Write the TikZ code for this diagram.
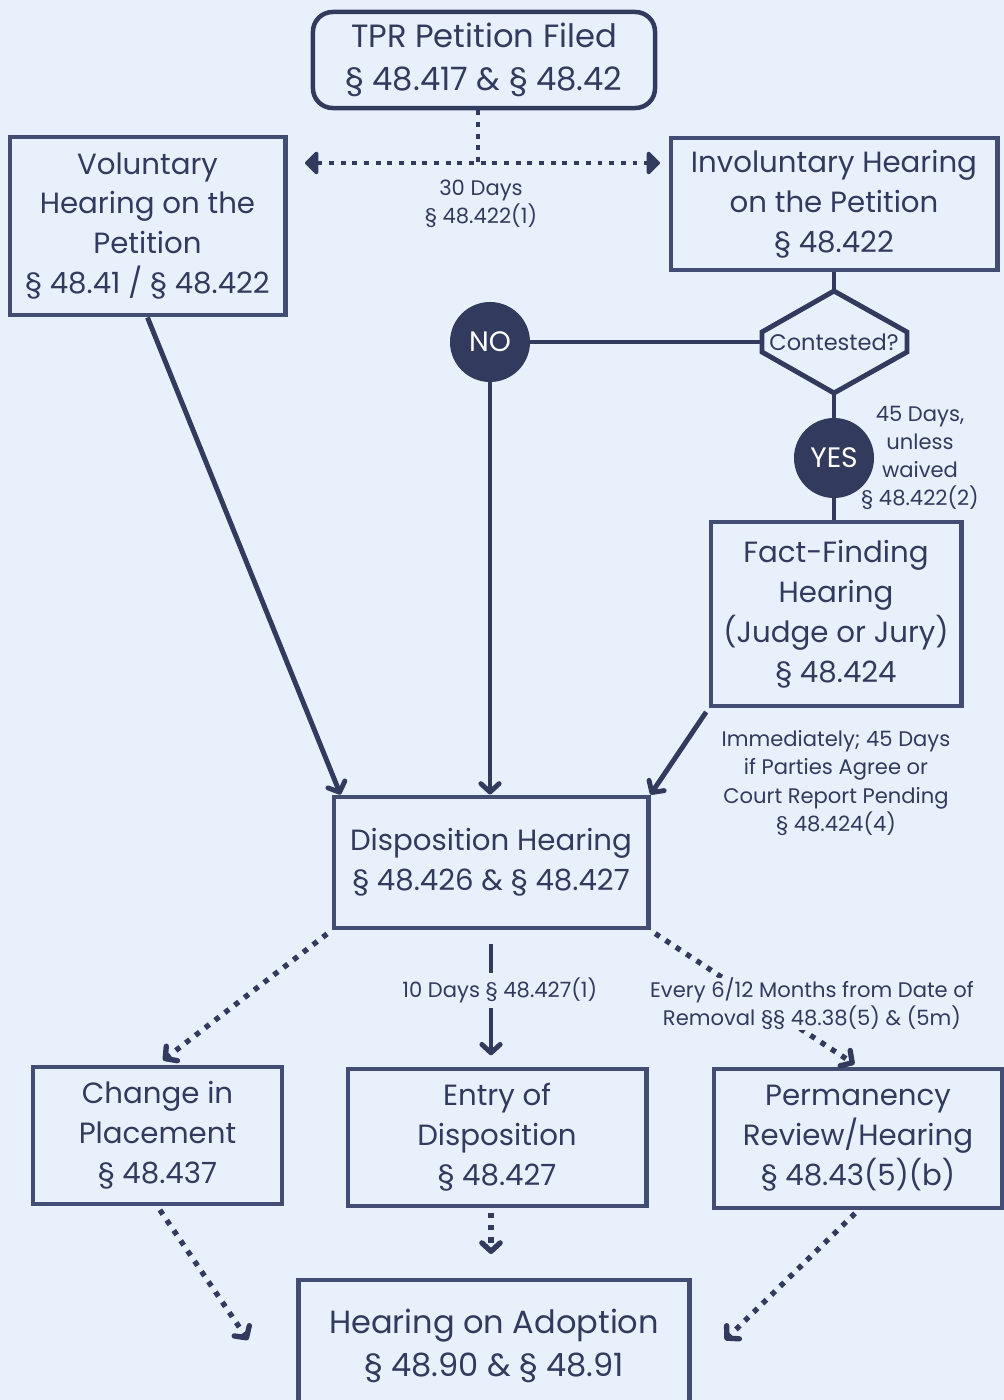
\documentclass[tikz,border=0pt]{standalone}
\usepackage{fontspec}
\setmainfont{Poppins}
\usetikzlibrary{positioning,arrows.meta}
\definecolor{navy}{HTML}{323A5E}
\definecolor{boxline}{HTML}{434C72}
\definecolor{paper}{HTML}{E8F1FB}
\tikzstyle{box}=[draw=boxline,line width=3.5pt,fill=paper,text=navy,align=center,inner sep=0pt,font=\fontsize{20.8}{28.4}\selectfont]
\tikzstyle{start}=[box,draw=navy,rounded corners=14pt,line width=3.2pt,font=\fontsize{22.9}{31}\selectfont]
\tikzstyle{note}=[text=navy,align=center,font=\fontsize{15}{20}\selectfont]
\tikzstyle{answer}=[circle,fill=navy,text=white,minimum size=2cm,inner sep=0pt,font=\fontsize{20}{24}\selectfont]
\tikzstyle{link}=[draw=navy,line width=3.5pt]
\tikzstyle{flow}=[link,-{Straight Barb[length=6pt,width=13pt,round]}]
\tikzstyle{dotflow}=[flow,line width=3.8pt,dash pattern=on 3.8pt off 5pt]

\begin{document}
\begin{tikzpicture}[x=0.025cm,y=-0.025cm]
\fill[paper] (0,0) rectangle (1004,1400);
\useasboundingbox (0,0) rectangle (1004,1400);

% top of the chart
\node (tpr) [start,minimum width=8.55cm,minimum height=2.4cm] at (484,60) {TPR Petition Filed\\§ 48.417 \& § 48.42};
\node (vol) [box,minimum width=6.875cm,minimum height=4.45cm] at (147.5,226) {Voluntary\\Hearing on the\\Petition\\§ 48.41 / § 48.422};
\node (invol) [box,minimum width=8.15cm,minimum height=3.3cm] at (834,204) {Involuntary Hearing\\on the Petition\\§ 48.422};
\coordinate (split) at (478,163);
\coordinate (tl) at (305,163);
\coordinate (tr) at (660,163);
\node (days30) [note] at (481,204) {30 Days\\§ 48.422(1)};

% contested?
\draw[link,line join=miter] (834,291) coordinate (ctop) -- (907,332) -- (907,352) -- (834,393) coordinate (cbot)
  -- (762,352) -- (762,332) -- cycle;
\coordinate (cleft) at (762,342);
\node (cont) [note,font=\fontsize{16}{20}\selectfont] at (834,342) {Contested?};
\node (no) [answer] at (490,342) {NO};
\node (yes) [answer] at (834,458) {YES};
\node (days45) [note] at (920,458) {45 Days,\\unless\\waived\\§ 48.422(2)};
\node (fact) [box,minimum width=6.25cm,minimum height=4.6cm] at (836,614) {Fact-Finding\\Hearing\\(Judge or Jury)\\§ 48.424};
\node (immed) [note] at (836,783) {Immediately; 45 Days\\if Parties Agree or\\Court Report Pending\\§ 48.424(4)};

% disposition and after
\node (dispo) [box,minimum width=7.85cm,minimum height=3.275cm] at (491,862.5) {Disposition Hearing\\§ 48.426 \& § 48.427};
\node (change) [box,minimum width=6.225cm,minimum height=3.425cm] at (157.5,1135.5) {Change in\\Placement\\§ 48.437};
\node (entry) [box,minimum width=7.45cm,minimum height=3.425cm] at (497,1137.5) {Entry of\\Disposition\\§ 48.427};
\node (perm) [box,minimum width=7.2cm,minimum height=3.475cm] at (858,1138.5) {Permanency\\Review/Hearing\\§ 48.43(5)(b)};
\node (adopt) [box,minimum width=9.75cm,minimum height=3.3cm,font=\fontsize{22.8}{31}\selectfont] at (494,1346) {Hearing on Adoption\\§ 48.90 \& § 48.91};
\coordinate (adl) at (248,1340);
\coordinate (adr) at (725,1340);
\coordinate (adtop) at (491,1254);

\draw[link,dash pattern=on 3.5pt off 4.8pt] (split |- tpr.south) -- (split);
\draw[link,dash pattern=on 3.5pt off 4.8pt,{Triangle[length=10pt,width=19pt,round]}-{Triangle[length=10pt,width=19pt,round]}] (tl) -- (tr);
\draw[link] (invol.south) -- (ctop);
\draw[link] (cleft) -- (no.east);
\draw[link] (cbot) -- (yes.north);
\draw[link] (yes.south) -- (fact.north -| yes);
\draw[flow] (vol.south) -- ([xshift=0.225cm]dispo.north west);
\draw[flow] (no.south) -- (no.south |- dispo.north);
\draw[flow,shorten <=3pt] (fact.south west) -- (dispo.north east);
\draw[dotflow,shorten <=4pt,shorten >=5pt] (dispo.south west) -- (change.north);
\draw[flow,shorten <=0.35cm,shorten >=0.28cm] (dispo.south) -- node[note,fill=paper,pos=0.44,xshift=0.22cm] {10 Days § 48.427(1)} (dispo.south |- entry.north);
\draw[dotflow,shorten <=4pt,shorten >=3pt] (dispo.south east) -- (perm.north);
\node (every) [note,fill=paper,inner sep=0pt] at (812,1004) {Every 6/12 Months from Date of\\Removal §§ 48.38(5) \& (5m)};
\draw[dotflow,shorten <=3pt] (change.south) -- (adl);
\draw[dotflow,shorten <=3pt] (adtop |- entry.south) -- (adtop);
\draw[dotflow,shorten <=3pt] (perm.south) -- (adr);
\end{tikzpicture}
\end{document}
